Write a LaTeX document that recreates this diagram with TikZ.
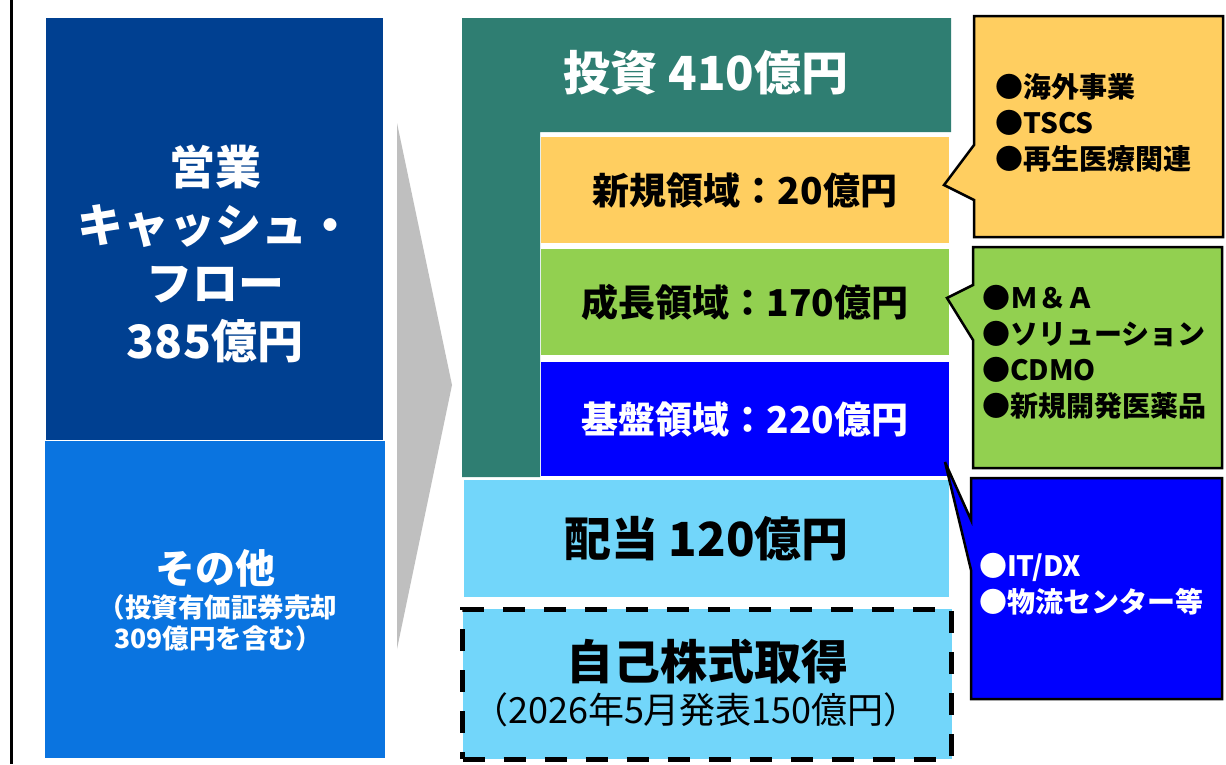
\documentclass[tikz,border=0pt]{standalone}
\usepackage{fontspec}
\setmainfont{Noto Sans CJK JP}
\definecolor{navy}{RGB}{0,64,145}
\definecolor{midblue}{RGB}{10,116,224}
\definecolor{tealg}{RGB}{47,126,114}
\definecolor{yel}{RGB}{255,206,96}
\definecolor{grn}{RGB}{146,208,80}
\definecolor{pblue}{RGB}{0,0,255}
\definecolor{cyanb}{RGB}{114,214,250}
\definecolor{greyc}{RGB}{191,191,191}
\begin{document}
\begin{tikzpicture}[x=1pt,y=-1pt,
  box/.style={draw=none,inner sep=0pt,outer sep=0pt,align=center},
  txt/.style={inner sep=0pt,outer sep=0pt,align=center,font=\bfseries},
  calltxt/.style={inner sep=0pt,outer sep=0pt,align=left,anchor=north west,font=\bfseries\fontsize{28}{36}\selectfont},
  callout/.style={draw=black,line width=2.5pt,line join=miter}]
\useasboundingbox (0,0) rectangle (1226,764);
\fill[white] (0,0) rectangle (1226,764);
\draw[line width=2.5pt] (11.5,0) -- (11.5,764);

% left boxes
\node[box,fill=navy,minimum width=337,minimum height=422] (ocf) at (214.5,229) {};
\node[box,fill=midblue,minimum width=340,minimum height=317] (oth) at (215,599.5) {};
\node[txt,text=white,font=\bfseries\fontsize{46}{58}\selectfont] (ocft) at (215,254)
  {営業\\キャッシュ・\\フロー\\385億円};
\node[txt,text=white,font=\bfseries\fontsize{40}{48}\selectfont] (otht) at (215,568) {その他};
\node[txt,text=white,font=\bfseries\fontsize{26.5}{31}\selectfont] (othsub) at (218,623)
  {（投資有価証券売却\\309億円を含む）};

% chevron
\fill[greyc] (397,123) -- (452,385) -- (397,649) -- cycle;

% investment L shape
\fill[tealg] (462,18) -- (951,18) -- (951,132) -- (540,132) -- (540,477) -- (462,477) -- cycle;
\node[txt,text=white,font=\bfseries\fontsize{47}{56}\selectfont] (inv) at (706,73) {投資 410億円};

\node[box,fill=yel,minimum width=408,minimum height=106,font=\bfseries\fontsize{37}{42}\selectfont] (new) at (745,190) {新規領域：20億円};
\node[box,fill=grn,minimum width=408,minimum height=106,font=\bfseries\fontsize{37}{42}\selectfont] (grow) at (745,302) {成長領域：170億円};
\node[box,fill=pblue,minimum width=408,minimum height=114,text=white,font=\bfseries\fontsize{37}{42}\selectfont] (base) at (745,419) {基盤領域：220億円};

\node[box,fill=cyanb,minimum width=485,minimum height=117,font=\bfseries\fontsize{47}{56}\selectfont] (div) at (706.5,538.5) {配当 120億円};

\node[box,fill=cyanb,draw=black,line width=5pt,dash pattern=on 22pt off 19pt,minimum width=489,minimum height=150] (buy) at (707,684) {};
\node[txt,font=\bfseries\fontsize{47}{56}\selectfont] (buyt) at (707,662) {自己株式取得};
\node[txt,font=\fontsize{36}{42}\selectfont] (buys) at (696,710) {（2026年5月発表150億円）};

% callouts
\coordinate (tipA) at (944,185);
\coordinate (tipB) at (947,298);
\coordinate (tipC) at (945,462);
\draw[callout,fill=yel] (974,16) -- (1223,16) -- (1223,237) -- (974,237) -- (974,200) -- (tipA) -- (974,145) -- cycle;
\draw[callout,fill=grn] (973,247) -- (1222,247) -- (1222,468) -- (973,468) -- (973,340) -- (tipB) -- (973,285) -- cycle;
\draw[callout,fill=pblue] (971,478) -- (1222,478) -- (1222,699) -- (971,699) -- (971,570) -- (tipC) -- (971,520) -- cycle;

\node[calltxt] (ca) at (995,74) {●海外事業\\●TSCS\\●再生医療関連};
\node[calltxt] (cb) at (982,285) {●Ｍ＆Ａ\\●ソリューション\\●CDMO\\●新規開発医薬品};
\node[calltxt,text=white] (cc) at (979,553) {●IT/DX\\●物流センター等};
\end{tikzpicture}
\end{document}
